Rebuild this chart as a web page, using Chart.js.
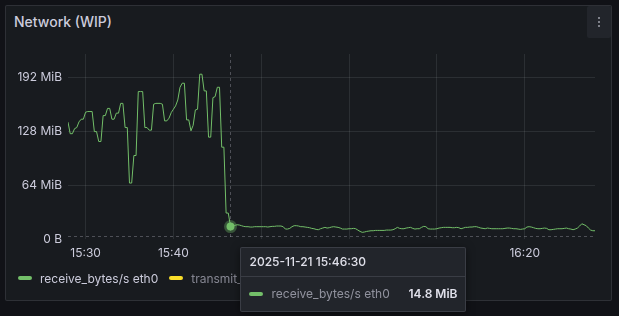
<!DOCTYPE html>
<html>
<head>
<meta charset="utf-8">
<script src="https://cdn.jsdelivr.net/npm/chart.js@4.4.1/dist/chart.umd.min.js"></script>
<style>
  html, body { margin: 0; padding: 0; background: #111217; width: 619px; height: 316px; overflow: hidden; font-family: Inter, "Noto Sans", sans-serif; }
  #panel { position: absolute; left: 5px; top: 5px; width: 605px; height: 294px; background: #181b1f; border: 1px solid rgba(204,204,220,0.12); border-radius: 2px; }
  #title { position: absolute; left: 14px; top: 14px; line-height: 16px; font-size: 14px; font-weight: 500; color: #ccccdc; }
  #menu { position: absolute; left: 587px; top: 6px; width: 24px; height: 32px; background: #22252b; border-radius: 2px; }
  #menu i { position: absolute; left: 11px; width: 2px; height: 2px; border-radius: 1px; background: #9fa1ab; }
  #chart { position: absolute; left: 0; top: 0; }
  #legend { position: absolute; left: 18px; top: 270px; height: 16px; display: flex; align-items: center; font-size: 12px; }
  .lg-item { display: flex; align-items: center; margin-right: 11px; white-space: nowrap; }
  .lg-mark { width: 14px; height: 4px; border-radius: 2px; margin-right: 8px; }
  #tt { position: absolute; display: none; width: 224px; height: 63px; background: #22252b; border: 1px solid rgba(204,204,220,0.15); border-radius: 2px; box-shadow: 0 2px 8px rgba(0,0,0,0.5); font-size: 12px; color: #ccccdc; }
  #tt .hd { height: 28px; line-height: 28px; padding-left: 8px; font-weight: 500; border-bottom: 1px solid rgba(204,204,220,0.15); color: #e0e0ea; }
  #tt .row { height: 34px; display: flex; align-items: center; padding: 0 8px; }
  #tt .mk { width: 14px; height: 4px; border-radius: 2px; margin-right: 8px; }
  #tt .lb { color: rgba(204,204,220,0.65); flex: 1; }
  #tt .val { font-weight: 600; color: #e0e0ea; }
</style>
</head>
<body>
<div id="panel"></div>
<div id="title">Network (WIP)</div>
<div id="menu"><i style="top:11px"></i><i style="top:15px"></i><i style="top:19px"></i></div>
<canvas id="chart" width="619" height="316"></canvas>
<div id="legend"></div>
<div id="tt"><div class="hd"></div><div class="row"><span class="mk"></span><span class="lb"></span><span class="val"></span></div></div>
<script>
// ---- data ----
const dateLabel = '2025-11-21';
const startTime = '15:28:00';
const endTime = '16:28:00';
const stepSec = 15;
const xTickLabels = ['15:30', '15:40', '15:50', '16:00', '16:10', '16:20'];
const seriesLabels = ['receive_bytes/s eth0', 'transmit_bytes/s eth0'];
const seriesColors = ['#73BF69', '#FADE2A'];
const receiveMiB = [
  138.7, 125, 125, 131, 132.3, 139, 142.2, 142.2, 150.5, 151.3,
  151.3, 151.3, 127.5, 127.5, 115.7, 115.7, 146.5, 146.5, 155, 155,
  142.2, 142.2, 149.4, 149.4, 161, 161, 132.3, 132.3, 66.4, 66.4,
  99.1, 99.1, 175, 175, 175, 132.3, 132.3, 129.2, 129.2, 160,
  161, 161, 161, 160, 140.2, 140.2, 143.4, 150, 154, 158,
  165, 180, 184.9, 184.9, 141.4, 141.4, 128.4, 135, 153.2, 154,
  195.6, 195.6, 175.8, 175.8, 120.9, 120.9, 167.8, 169, 180.1, 180.1,
  109, 109, 30.8, 30.8, 14.8, 15.8, 16.2, 16.9, 16.6, 15.8,
  15.0, 14.6, 14.6, 14.2, 14.2, 14.6, 14.6, 14.6, 14.6, 14.6,
  14.6, 14.2, 14.6, 15.0, 15.0, 15.4, 15.4, 15.4, 14.6, 11.8,
  11.8, 12.6, 14.6, 15.8, 15.8, 15.4, 14.6, 14.6, 14.2, 13.8,
  13.4, 12.6, 12.2, 11.4, 11.0, 12.2, 13.0, 13.8, 13.0, 13.4,
  14.2, 14.6, 14.2, 13.8, 13.0, 11.8, 11.8, 11.8, 12.2, 12.2,
  12.6, 12.2, 10.6, 9.0, 7.9, 8.3, 9.0, 9.4, 9.8, 9.8,
  10.2, 10.2, 10.2, 10.2, 10.2, 10.6, 10.6, 10.6, 11.0, 12.2,
  13.8, 12.6, 12.2, 12.2, 13.0, 13.4, 13.8, 12.6, 11.8, 12.2,
  12.2, 13.8, 15.0, 14.6, 12.2, 11.8, 11.8, 11.8, 12.2, 13.0,
  13.4, 13.8, 13.8, 13.8, 13.8, 13.4, 13.4, 13.8, 13.4, 12.2,
  13.0, 13.8, 13.8, 14.2, 14.2, 14.6, 14.6, 13.8, 13.0, 12.6,
  12.2, 13.0, 12.6, 12.2, 12.2, 12.2, 12.2, 12.2, 12.2, 12.6,
  13.0, 13.0, 12.6, 12.2, 12.2, 11.8, 11.4, 11.8, 12.2, 14.2,
  14.6, 14.2, 13.4, 12.6, 12.2, 12.2, 12.6, 13.0, 12.6, 11.0,
  11.0, 11.4, 11.8, 12.2, 12.2, 12.2, 12.6, 13.0, 12.2, 11.8,
  11.0, 11.8, 13.0, 15.4, 18.1, 16.9, 15.8, 13.0, 10.6, 9.8,
  9.8
];
const transmitMiB = [];            // hidden series, no visible values
const yTicksMiB = [0, 64, 128, 192];
const yMaxMiB = 219.6;
const thresholdMiB = [3];          // dashed reference line near the bottom
const hoverIndex = 74;             // 15:46:30

// ---- helpers ----
const pad = n => String(n).padStart(2, '0');
const toSec = t => { const p = t.split(':').map(Number); return p[0] * 3600 + p[1] * 60 + (p[2] || 0); };
function fmtTime(sec, withSec) {
  const h = Math.floor(sec / 3600), m = Math.floor((sec % 3600) / 60), s = Math.round(sec % 60);
  return pad(h) + ':' + pad(m) + (withSec ? ':' + pad(s) : '');
}
const startSec = toSec(startTime), endSec = toSec(endTime);
const receivePoints = receiveMiB.map((v, i) => ({ x: startSec + i * stepSec, y: v }));
const transmitPoints = transmitMiB.map((v, i) => ({ x: startSec + i * stepSec, y: v }));

const gridColor = 'rgba(240,250,255,0.09)';
const textColor = '#ccccdc';

const guides = {
  id: 'guides',
  beforeDatasetsDraw(chart) {
    const { ctx, chartArea: a, scales: { y } } = chart;
    ctx.save();
    ctx.lineWidth = 1;
    ctx.strokeStyle = 'rgba(204,204,220,0.3)';
    ctx.setLineDash([3, 3]);
    thresholdMiB.forEach(t => {
      const py = Math.round(y.getPixelForValue(t)) + 0.5;
      ctx.beginPath(); ctx.moveTo(a.left, py); ctx.lineTo(a.right, py); ctx.stroke();
    });
    const act = chart.getActiveElements();
    if (act.length) {
      const px = Math.round(act[0].element.x) + 0.5;
      ctx.beginPath(); ctx.moveTo(px, a.top); ctx.lineTo(px, a.bottom); ctx.stroke();
    }
    ctx.restore();
  }
};

function externalTooltip({ chart, tooltip }) {
  const el = document.getElementById('tt');
  if (!tooltip || tooltip.opacity === 0 || !tooltip.dataPoints || !tooltip.dataPoints.length) { el.style.display = 'none'; return; }
  const dp = tooltip.dataPoints[0];
  el.querySelector('.hd').textContent = dateLabel + ' ' + fmtTime(dp.parsed.x, true);
  el.querySelector('.mk').style.background = dp.dataset.borderColor;
  el.querySelector('.lb').textContent = dp.dataset.label;
  el.querySelector('.val').textContent = dp.parsed.y.toFixed(1) + ' MiB';
  el.style.display = 'block';
  el.style.left = (chart.canvas.offsetLeft + tooltip.caretX + 10) + 'px';
  el.style.top = (chart.canvas.offsetTop + tooltip.caretY + 20) + 'px';
}

Chart.defaults.font.family = 'Inter, "Noto Sans", sans-serif';
Chart.defaults.font.size = 12;
Chart.defaults.color = textColor;

const chart = new Chart(document.getElementById('chart'), {
  type: 'line',
  data: {
    datasets: [
      { label: seriesLabels[0], data: receivePoints, borderColor: seriesColors[0], backgroundColor: seriesColors[0],
        borderWidth: 1, pointRadius: 0, pointHoverRadius: 4, pointHoverBackgroundColor: seriesColors[0],
        pointHoverBorderColor: 'rgba(115,191,105,0.35)', pointHoverBorderWidth: 5, tension: 0 },
      { label: seriesLabels[1], data: transmitPoints, borderColor: seriesColors[1], backgroundColor: seriesColors[1],
        borderWidth: 1, pointRadius: 0, hidden: true }
    ]
  },
  options: {
    responsive: false, animation: false, events: [],
    layout: { padding: { left: 0, right: 24, top: 54, bottom: 57 } },
    scales: {
      x: {
        type: 'linear', min: startSec, max: endSec,
        afterFit: s => { s.height = 20; },
        afterBuildTicks: s => { s.ticks = xTickLabels.map(t => ({ value: toSec(t) })); },
        ticks: { autoSkip: false, maxRotation: 0, padding: 7, color: textColor,
          callback: v => fmtTime(v, false) },
        grid: { color: gridColor, drawTicks: false },
        border: { display: false }
      },
      y: {
        min: 0, max: yMaxMiB,
        afterFit: s => { s.width = 68; },
        afterBuildTicks: s => { s.ticks = yTicksMiB.map(v => ({ value: v })); },
        ticks: { padding: 6, color: textColor, callback: v => v === 0 ? '0 B' : v + ' MiB' },
        grid: { color: c => (c.tick && c.tick.value === 0) ? 'rgba(0,0,0,0)' : gridColor, drawTicks: false },
        border: { display: false }
      }
    },
    plugins: {
      legend: { display: false },
      tooltip: { enabled: false, mode: 'nearest', intersect: false, external: externalTooltip }
    }
  },
  plugins: [guides]
});

// HTML legend built from the chart's datasets
const legendEl = document.getElementById('legend');
chart.data.datasets.forEach((ds, i) => {
  const item = document.createElement('div');
  item.className = 'lg-item';
  const mk = document.createElement('span');
  mk.className = 'lg-mark';
  mk.style.background = ds.borderColor;
  const tx = document.createElement('span');
  tx.textContent = ds.label;
  tx.style.color = ds.hidden ? 'rgba(204,204,220,0.6)' : textColor;
  item.appendChild(mk); item.appendChild(tx);
  legendEl.appendChild(item);
});

// hover state at 15:46:30
const el = chart.getDatasetMeta(0).data[hoverIndex];
chart.setActiveElements([{ datasetIndex: 0, index: hoverIndex }]);
chart.tooltip.setActiveElements([{ datasetIndex: 0, index: hoverIndex }], { x: el.x, y: el.y });
chart.update();
</script>
</body>
</html>
